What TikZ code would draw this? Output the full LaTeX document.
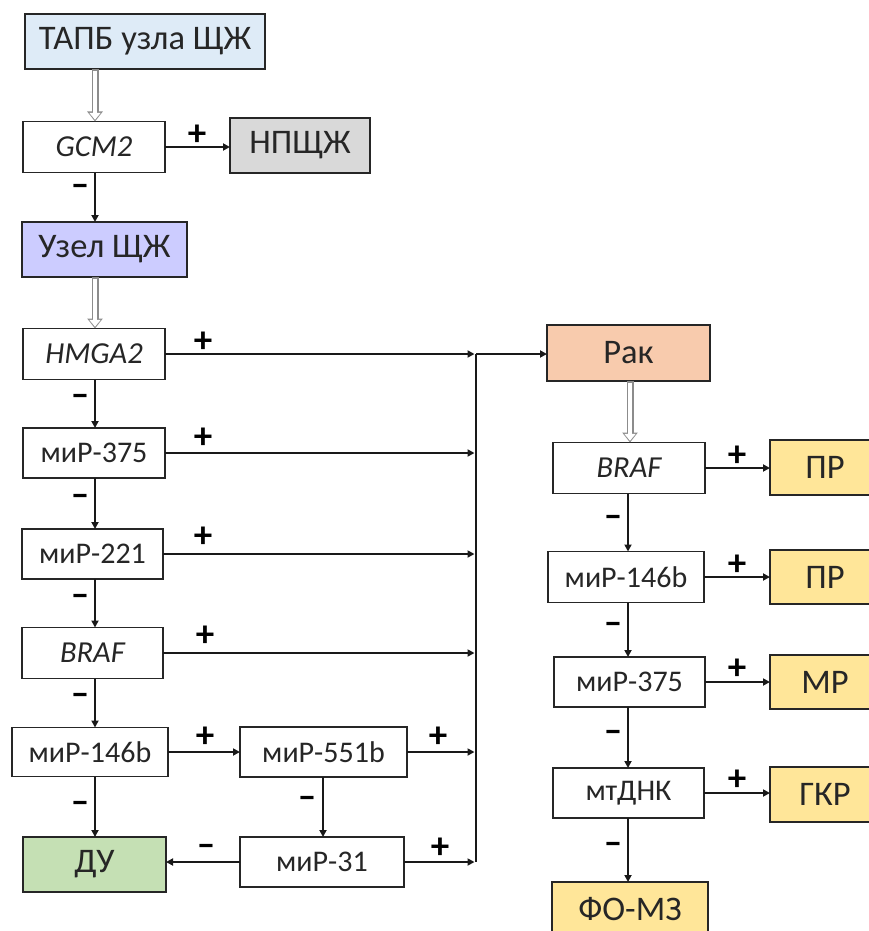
\documentclass[tikz,border=0pt]{standalone}
\usepackage{fontspec}
\setmainfont{Carlito}
\usetikzlibrary{arrows.meta}
\definecolor{cBlue}{HTML}{DEEBF7}
\definecolor{cGray}{HTML}{D9D9D9}
\definecolor{cLav}{HTML}{CCCCFF}
\definecolor{cGreen}{HTML}{C5E0B4}
\definecolor{cRak}{HTML}{F8CBAD}
\definecolor{cYel}{HTML}{FFE699}
\definecolor{cTxt}{HTML}{262626}
\begin{document}
\begin{tikzpicture}[x=1pt,y=-1pt,
  box/.style={draw=black!85, line width=1.8pt, fill=white, inner sep=0pt, outer sep=0pt, text=cTxt,
    font=\fontsize{30}{30}\selectfont},
  big/.style={font=\fontsize{34.5}{34.5}\selectfont},
  gene/.style={font=\fontsize{30.5}{30.5}\selectfont\itshape},
  arr/.style={draw=black!90, line width=1.9pt, -{Triangle[length=7pt,width=7pt]}},
  ln/.style={draw=black!90, line width=1.9pt},
  hout/.style={draw=black!45, line width=7pt, -{Triangle[length=10pt,width=15pt]}},
  hin/.style={draw=white, line width=4.4pt, shorten <=1.6pt, shorten >=1.7pt, -{Triangle[length=7pt,width=11pt]}},
  plus/.style={font=\fontsize{37}{37}\selectfont\bfseries, inner sep=0pt, text=black},
  minus/.style={font=\fontsize{37}{37}\selectfont\bfseries, inner sep=0pt, text=black}]
\path[use as bounding box] (0,0) rectangle (869,931);
\begin{scope}
\clip (0,0) rectangle (869,931);
% left column boxes
\node[box,big,fill=cBlue,minimum width=240,minimum height=55] (tapb) at (145,41.5) {ТАПБ узла ЩЖ};
\node[box,gene,minimum width=142,minimum height=51] (gcm2) at (94,147) {GCM2};
\node[box,big,fill=cGray,minimum width=140,minimum height=55] (npsh) at (300,145.5) {НПЩЖ};
\node[box,big,fill=cLav,minimum width=165,minimum height=55] (uzel) at (104.5,249.5) {Узел ЩЖ};
\node[box,gene,minimum width=142,minimum height=51] (hmga2) at (94,354) {HMGA2};
\node[box,minimum width=142,minimum height=50] (mir375L) at (94,453) {миР-375};
\node[box,minimum width=141,minimum height=50] (mir221L) at (92.5,554) {миР-221};
\node[box,gene,minimum width=141,minimum height=51] (brafL) at (92.5,653) {BRAF};
\node[box,minimum width=156,minimum height=49] (mir146L) at (90,752) {миР-146b};
\node[box,minimum width=167,minimum height=50] (mir551) at (323.5,752) {миР-551b};
\node[box,minimum width=164,minimum height=50] (mir31) at (322,862) {миР-31};
\node[box,big,fill=cGreen,minimum width=143,minimum height=55] (du) at (94.5,864.5) {ДУ};
% right column boxes
\node[box,big,fill=cRak,minimum width=163,minimum height=56] (rak) at (628.5,353) {Рак};
\node[box,gene,minimum width=152,minimum height=51] (brafR) at (629,468) {BRAF};
\node[box,big,fill=cYel,minimum width=110,minimum height=55] (pr1) at (825,467.5) {ПР};
\node[box,minimum width=156,minimum height=51] (mir146R) at (626,577) {миР-146b};
\node[box,big,fill=cYel,minimum width=110,minimum height=54] (pr2) at (825,577) {ПР};
\node[box,minimum width=151,minimum height=50] (mir375R) at (629.5,682) {миР-375};
\node[box,big,fill=cYel,minimum width=110,minimum height=54] (mr) at (825,682) {МР};
\node[box,minimum width=151,minimum height=50] (mtdnk) at (628.5,793) {мтДНК};
\node[box,big,fill=cYel,minimum width=110,minimum height=55] (gkr) at (825,794.5) {ГКР};
\node[box,big,fill=cYel,minimum width=156,minimum height=55] (fo) at (630,909.5) {ФО-МЗ};
% helper coordinates
\coordinate (colL) at (95,0);
\coordinate (colR) at (628,0);
\coordinate (busT) at (476,354);
\coordinate (busB) at (476,862);
% hollow arrows
\draw[hout] (tapb.south -| colL) -- (gcm2.north -| colL);
\draw[hin] (tapb.south -| colL) -- (gcm2.north -| colL);
\draw[hout] (uzel.south -| colL) -- (hmga2.north -| colL);
\draw[hin] (uzel.south -| colL) -- (hmga2.north -| colL);
\draw[hout] (rak.south -| 630,0) -- (brafR.north -| 630,0);
\draw[hin] (rak.south -| 630,0) -- (brafR.north -| 630,0);
% left vertical arrows
\draw[arr] (gcm2.south -| colL) -- (uzel.north -| colL);
\draw[arr] (hmga2.south -| colL) -- (mir375L.north -| colL);
\draw[arr] (mir375L.south -| colL) -- (mir221L.north -| colL);
\draw[arr] (mir221L.south -| colL) -- (brafL.north -| colL);
\draw[arr] (brafL.south -| colL) -- (mir146L.north -| colL);
\draw[arr] (mir146L.south -| colL) -- (du.north -| colL);
\draw[arr] (mir551.south -| 323,0) -- (mir31.north -| 323,0);
% horizontal arrows
\draw[arr] (gcm2.east) -- (gcm2.east -| npsh.west);
\draw[arr,shorten >=1.5pt] (hmga2.east) -- (hmga2.east -| busT);
\draw[arr,shorten >=1.5pt] (mir375L.east) -- (mir375L.east -| busT);
\draw[arr,shorten >=1.5pt] (mir221L.east) -- (mir221L.east -| busT);
\draw[arr,shorten >=1.5pt] (brafL.east) -- (brafL.east -| busT);
\draw[arr] (mir146L.east) -- (mir146L.east -| mir551.west);
\draw[arr,shorten >=1.5pt] (mir551.east) -- (mir551.east -| busT);
\draw[arr,shorten >=1.5pt] (mir31.east) -- (mir31.east -| busT);
\draw[arr] (mir31.west) -- (mir31.west -| du.east);
\draw[ln] (busT) -- (busB);
\draw[arr] (busT) -- (busT -| rak.west);
% right column arrows
\draw[arr] (brafR.south -| colR) -- (mir146R.north -| colR);
\draw[arr] (mir146R.south -| colR) -- (mir375R.north -| colR);
\draw[arr] (mir375R.south -| colR) -- (mtdnk.north -| colR);
\draw[arr] (mtdnk.south -| colR) -- (fo.north -| colR);
\draw[arr] (brafR.east) -- (brafR.east -| pr1.west);
\draw[arr] (mir146R.east) -- (mir146R.east -| pr2.west);
\draw[arr] (mir375R.east) -- (mir375R.east -| mr.west);
\draw[arr] (mtdnk.east) -- (mtdnk.east -| gkr.west);
% signs
\foreach \n/\p in {p1/{197,135}, p2/{203,342}, p3/{203,438}, p4/{203,537}, p5/{205,636}, p6/{205,737}, p7/{438,737}, p8/{440,848}, p9/{737,456}, p10/{737,565}, p11/{737,669}, p12/{737,780}}
  \node[plus] (\n) at (\p) {+};
\foreach \n/\p in {m1/{80,190}, m2/{80,400}, m3/{80,500}, m4/{80,600}, m5/{80,699}, m6/{80,807}, m7/{307,802}, m8/{206,850}, m9/{613,521}, m10/{613,628}, m11/{613,736}, m12/{613,848}}
  \node[minus] (\n) at (\p) {–};
\end{scope}
\end{tikzpicture}
\end{document}
